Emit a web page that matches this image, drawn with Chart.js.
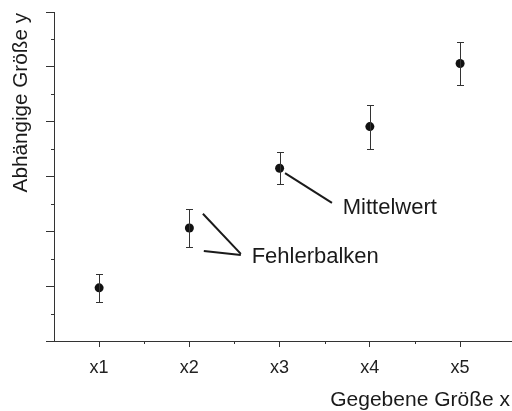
<!DOCTYPE html>
<html>
<head>
<meta charset="utf-8">
<script src="https://cdn.jsdelivr.net/npm/chart.js@4/dist/chart.umd.min.js"></script>
<style>
  html, body { margin: 0; padding: 0; background: #fff; }
  #c { display: block; }
</style>
</head>
<body>
<canvas id="c" width="512" height="411"></canvas>
<script>
// data
const categories = ['x1', 'x2', 'x3', 'x4', 'x5'];
const means = [0.97, 2.06, 3.15, 3.91, 5.06];
const errors = [0.25, 0.35, 0.29, 0.40, 0.40];
const yTicks = [0, 1, 2, 3, 4, 5, 6];

const xTitle = 'Gegebene Größe x';
const yTitle = 'Abhängige Größe y';

// callouts, in data units
const calloutMittelwert = { text: 'Mittelwert', at: [3.70, 2.32], lines: [[[3.06, 3.06], [3.58, 2.52]]] };
const calloutFehler = { text: 'Fehlerbalken', at: [2.69, 1.42],
    lines: [[[2.15, 2.32], [2.57, 1.59]], [[2.16, 1.64], [2.57, 1.57]]] };

const FONT = '"Liberation Sans", Arial, sans-serif';
const AXIS = '#333';

const extras = {
    id: 'extras',
    afterDatasetsDraw(chart) {
        const { ctx, chartArea: a } = chart;
        const xs = chart.scales.x, ys = chart.scales.y;
        ctx.save();

        // error bars
        ctx.strokeStyle = '#333';
        ctx.lineWidth = 1;
        means.forEach((m, i) => {
            const px = Math.round(xs.getPixelForValue(i + 1)) + 0.5;
            const top = Math.round(ys.getPixelForValue(m + errors[i])) + 0.5;
            const bot = Math.round(ys.getPixelForValue(m - errors[i])) + 0.5;
            ctx.beginPath();
            ctx.moveTo(px, top); ctx.lineTo(px, bot);
            ctx.moveTo(px - 3.5, top); ctx.lineTo(px + 3.5, top);
            ctx.moveTo(px - 3.5, bot); ctx.lineTo(px + 3.5, bot);
            ctx.stroke();
        });

        // minor ticks
        ctx.strokeStyle = AXIS;
        ctx.beginPath();
        for (let v = 0.5; v < 6; v += 1) {
            const py = Math.round(ys.getPixelForValue(v)) + 0.5;
            ctx.moveTo(a.left - 3, py); ctx.lineTo(a.left, py);
        }
        for (let v = 1.5; v < categories.length; v += 1) {
            const px = Math.round(xs.getPixelForValue(v)) + 0.5;
            ctx.moveTo(px, a.bottom); ctx.lineTo(px, a.bottom + 3);
        }
        // x axis line runs a bit past the y axis
        ctx.moveTo(a.left - 7, a.bottom + 0.5); ctx.lineTo(a.left, a.bottom + 0.5);
        ctx.stroke();

        // callouts
        ctx.strokeStyle = '#1a1a1a';
        ctx.lineWidth = 2;
        ctx.fillStyle = '#1a1a1a';
        ctx.font = '22px ' + FONT;
        ctx.textBaseline = 'alphabetic';
        ctx.textAlign = 'left';
        [calloutMittelwert, calloutFehler].forEach(c => {
            c.lines.forEach(([p, q]) => {
                ctx.beginPath();
                ctx.moveTo(xs.getPixelForValue(p[0]), ys.getPixelForValue(p[1]));
                ctx.lineTo(xs.getPixelForValue(q[0]), ys.getPixelForValue(q[1]));
                ctx.stroke();
            });
            ctx.fillText(c.text, xs.getPixelForValue(c.at[0]), ys.getPixelForValue(c.at[1]));
        });

        // axis titles
        ctx.font = '21px ' + FONT;
        ctx.textAlign = 'right';
        ctx.fillText(xTitle, 510, 406);
        ctx.font = '20.7px ' + FONT;
        ctx.translate(27, 13);
        ctx.rotate(-Math.PI / 2);
        ctx.fillText(yTitle, 0, 0);
        ctx.restore();
    }
};

new Chart(document.getElementById('c'), {
    type: 'scatter',
    data: {
        datasets: [{
            data: means.map((m, i) => ({ x: i + 1, y: m })),
            pointRadius: 4.5,
            pointBackgroundColor: '#111',
            pointBorderColor: '#111',
            pointBorderWidth: 0,
            showLine: false
        }]
    },
    options: {
        responsive: false,
        animation: false,
        layout: { autoPadding: false, padding: { top: 12, right: 0, left: 0, bottom: 0 } },
        plugins: { legend: { display: false }, tooltip: { enabled: false } },
        scales: {
            x: {
                type: 'linear',
                min: 0.5,
                max: 5.575,
                afterBuildTicks: s => { s.ticks = categories.map((c, i) => ({ value: i + 1 })); },
                afterFit: s => { s.height = 70; s.paddingLeft = 0; s.paddingRight = 0; },
                grid: { drawOnChartArea: false, drawTicks: true, tickLength: 6, color: AXIS },
                border: { display: true, color: AXIS, width: 1 },
                ticks: {
                    padding: 10,
                    color: '#222',
                    font: { family: FONT, size: 18 },
                    callback: (v, i) => categories[i]
                }
            },
            y: {
                min: 0,
                max: 6,
                afterBuildTicks: s => { s.ticks = yTicks.map(v => ({ value: v })); },
                afterFit: s => { s.width = 54; s.paddingTop = 0; s.paddingBottom = 0; },
                grid: { drawOnChartArea: false, drawTicks: true, tickLength: 8, color: AXIS },
                border: { display: true, color: AXIS, width: 1 },
                ticks: { display: false }
            }
        }
    },
    plugins: [extras]
});
</script>
</body>
</html>
